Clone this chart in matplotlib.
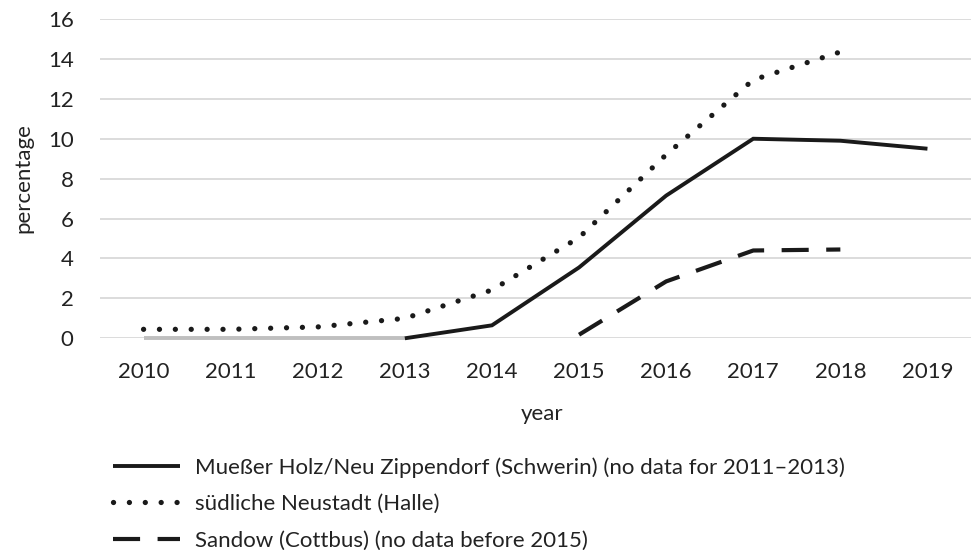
import matplotlib
matplotlib.use("Agg")
import matplotlib.pyplot as plt
import numpy as np

years = ["2010", "2011", "2012", "2013", "2014", "2015", "2016", "2017", "2018", "2019"]
schwerin = [0.0, None, None, 0.0, 0.65, 3.55, 7.15, 10.0, 9.9, 9.5]
schwerin_gap = [0.0, None, None, 0.0, None, None, None, None, None, None]
halle = [0.45, 0.45, 0.57, 1.0, 2.42, 5.05, 9.2, 12.95, 14.35, None]
sandow = [None, None, None, None, None, 0.18, 2.85, 4.4, 4.45, None]

labels = ["Mueßer Holz/Neu Zippendorf (Schwerin) (no data for 2011–2013)",
          "südliche Neustadt (Halle)",
          "Sandow (Cottbus) (no data before 2015)"]

plt.rcParams['font.family'] = ['Lato', 'DejaVu Sans']
txt = '#222222'
fs = 16

def arr(v):
    return np.array([np.nan if x is None else x for x in v], dtype=float)

fig = plt.figure(figsize=(9.72, 5.5), dpi=100)
ax = fig.add_axes([100/972, 1-338.3/550, 871/972, 319.3/550])
x = np.arange(len(years))

# gap segment (no data) drawn in gray between the known points
sg = arr(schwerin_gap)
idx = np.where(~np.isnan(sg))[0]
ax.plot(x[idx], sg[idx], color='#BFBFBF', lw=2.8, solid_capstyle='butt',
        zorder=3, clip_on=False)

s = arr(schwerin)
mask_after = x >= 3
l1, = ax.plot(x[mask_after], s[mask_after], color='#1a1a1a', lw=2.8,
              solid_capstyle='butt', solid_joinstyle='miter', zorder=4, clip_on=False)
l2, = ax.plot(x, arr(halle), color='#1a1a1a', lw=3.8,
              linestyle=(0, (0.01, 3.0)), dash_capstyle='round', zorder=4, clip_on=False)
l3, = ax.plot(x, arr(sandow), color='#1a1a1a', lw=3.0,
              linestyle=(0, (6.5, 4.2)), dash_capstyle='butt', zorder=4, clip_on=False)

ax.set_xlim(-0.5, 9.5)
ax.set_ylim(0, 16)
ax.set_yticks(np.arange(0, 17, 2))
ax.set_xticks(x)
ax.set_xticklabels(years)
ax.yaxis.grid(True, color='#D9D9D9', lw=1.3)
ax.set_axisbelow(True)
for sp in ax.spines.values():
    sp.set_visible(False)
ax.tick_params(axis='both', length=0, labelsize=fs, colors=txt)
ax.tick_params(axis='y', pad=19)
ax.tick_params(axis='x', pad=17)

fig.text(23/972, 1-178/550, "percentage", rotation=90, ha='center', va='center',
         fontsize=fs, color=txt)
fig.text(542/972, 1-414/550, "year", ha='center', va='center', fontsize=fs, color=txt)

leg = fig.legend([l1, l2, l3], labels, loc='upper left',
                 bbox_to_anchor=(113/972, 1-457/550), frameon=False,
                 fontsize=fs, handlelength=3.0, handletextpad=0.68,
                 labelspacing=0.74, borderaxespad=0, borderpad=0)
for t in leg.get_texts():
    t.set_color(txt)

fig.savefig("out.png", dpi=100)
